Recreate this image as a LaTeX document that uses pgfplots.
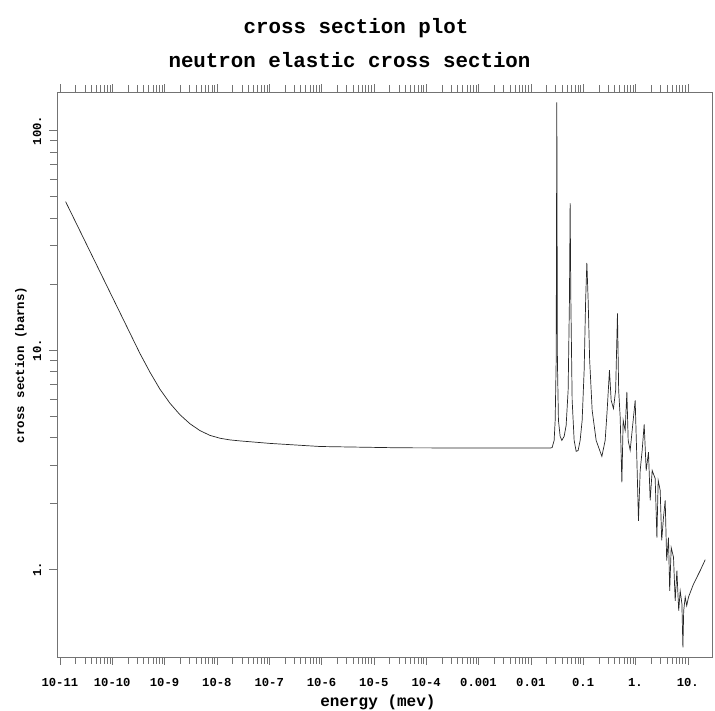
\documentclass[border=0pt]{standalone}
\usepackage{fontspec}
\setmainfont{Liberation Mono}
\usepackage{pgfplots}
\pgfplotsset{compat=1.18}

\begin{document}
\begin{tikzpicture}
\begin{axis}[
    scale only axis,
    width=655pt, height=565pt,
    xmode=log, ymode=log,
    xmin=8.8e-12, xmax=29,
    ymin=0.4, ymax=150,
    xtickten={-11,...,1},
    xticklabels={10-11,10-10,10-9,10-8,10-7,10-6,10-5,10-4,0.001,0.01,0.1,1.,10.},
    ytickten={0,1,2},
    yticklabels={1.,10.,100.},
    tick align=outside,
    xtick pos=both, ytick pos=left,
    major tick length=8pt, minor tick length=7pt,
    every tick/.style={black!55, line width=0.6pt},
    axis line style={black!55, line width=0.7pt},
    tick label style={font=\fontsize{12.2}{14}\selectfont\bfseries},
    xticklabel style={anchor=center, yshift=-18pt},
    yticklabel style={rotate=90, anchor=center, yshift=12pt},
    xlabel={energy (mev)},
    ylabel={cross section (barns)},
    xlabel style={at={(axis description cs:0.49,0)}, anchor=center, yshift=-45pt,
        font=\fontsize{16}{18}\selectfont\bfseries},
    ylabel style={at={(axis description cs:0,0.517)}, anchor=center, yshift=36pt,
        font=\fontsize{12.4}{14}\selectfont\bfseries},
    clip mode=individual,
]
% elastic cross section
\addplot[black!85, line width=0.7pt] coordinates {
(1.285e-11,47.5) (2.412e-11,34.98) (5.817e-11,22.78) (2.180e-10,11.97)
(3.385e-10,9.66) (5.257e-10,7.94) (8.166e-10,6.64) (1.2685e-9,5.73)
(1.970e-9,5.08) (3.060e-9,4.62) (4.752e-9,4.30) (7.380e-9,4.09)
(1.147e-8,3.97) (1.780e-8,3.90) (2.764e-8,3.86) (1.036e-7,3.76)
(9.36e-7,3.64) (3.155e-5,3.59) (2.588e-3,3.58) (0.02339,3.58)
(0.02553,3.60) (0.0279,3.88) (0.0292,4.79) (0.03053,9.0)
(0.03139,134.7) (0.03221,9.0) (0.03371,4.79) (0.03633,4.05)
(0.03915,3.88) (0.04335,4.05) (0.0473,4.54) (0.05165,6.57)
(0.0547,16.9) (0.0564,46.8) (0.0582,16.9) (0.06163,5.91)
(0.0673,3.88) (0.0735,3.46) (0.0802,3.49) (0.0876,3.88)
(0.0957,4.79) (0.1045,8.1) (0.1116,16.9) (0.1177,25.0)
(0.1246,16.9) (0.1331,9.0) (0.1486,5.32) (0.1772,3.88)
(0.2278,3.28) (0.2634,3.88) (0.2876,5.32) (0.3183,8.1)
(0.343,5.91) (0.3797,5.42) (0.418,6.57) (0.4526,14.7)
(0.4773,6.57) (0.5099,4.96) (0.5495,2.5) (0.5818,4.79)
(0.6353,4.31) (0.6848,6.45) (0.7252,3.88) (0.792,3.5)
(0.8647,4.31) (0.9868,5.9) (1.064,3.15) (1.141,1.67)
(1.23,2.83) (1.343,3.5) (1.467,4.59) (1.602,2.83)
(1.773,3.43) (1.91,2.07) (2.086,2.83) (2.38,2.6)
(2.566,1.40) (2.716,2.55) (2.967,2.3) (3.17,1.36)
(3.431,1.73) (3.698,2.07) (3.951,1.10) (4.276,1.40)
(4.508,0.80) (4.815,1.26) (5.33,1.14) (5.742,0.72)
(6.188,0.99) (6.699,0.65) (7.155,0.80) (7.714,0.70)
(8.058,0.442) (8.348,0.65) (8.919,0.75) (9.528,0.685)
(10.31,0.75) (12.85,0.86) (17.26,0.99) (21.51,1.11)
};
\node[font=\fontsize{20.8}{24}\selectfont\bfseries] at (axis description cs:0.4565,1.1133) {cross section plot};
\node[font=\fontsize{20.8}{24}\selectfont\bfseries] at (axis description cs:0.4466,1.0566) {neutron elastic cross section};
\end{axis}
\pgfresetboundingbox
\path ([xshift=-57pt,yshift=-53pt]current axis.south west) rectangle ([xshift=3pt,yshift=92pt]current axis.north east);
\end{tikzpicture}
\end{document}
